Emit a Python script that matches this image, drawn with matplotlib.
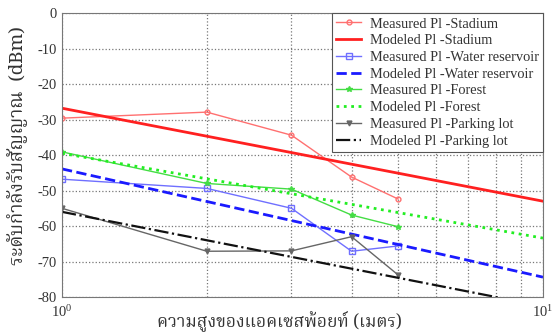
import numpy as np
import matplotlib
matplotlib.use('Agg')
import matplotlib.pyplot as plt
from matplotlib.ticker import LogLocator, NullFormatter, FixedLocator

# ความสูงของแอคเซสพ้อยท์ (m) at which path loss was measured
height_m = [1, 2, 3, 4, 5]
# model lines are straight on log-x, endpoints at 1 m and 10 m
height_model = [1, 10]

stadium_meas = [-29.6, -27.9, -34.4, -46.2, -52.4]
stadium_model = [-26.8, -53.0]
water_meas = [-46.8, -49.4, -55.0, -67.1, -65.6]
water_model = [-43.9, -74.4]
forest_meas = [-39.1, -48.0, -49.6, -56.9, -60.2]
forest_model = [-39.5, -63.4]
parking_meas = [-55.0, -67.1, -67.0, -63.0, -73.8]
parking_model = [-56.0, -82.6]

labels = ['Measured Pl -Stadium', 'Modeled Pl -Stadium',
          'Measured Pl -Water reservoir', 'Modeled Pl -Water reservoir',
          'Measured Pl -Forest', 'Modeled Pl -Forest',
          'Measured Pl -Parking lot', 'Modeled Pl -Parking lot']
yticks = [0, -10, -20, -30, -40, -50, -60, -70, -80]
xlabel = 'ความสูงของแอคเซสพ้อยท์ (เมตร)'
ylabel = 'ระดับกำลังรับสัญญาณ  (dBm)'

thai_fonts = ['Noto Serif Thai', 'Noto Sans Thai', 'Garuda', 'Loma', 'Norasi',
              'TlwgTypo', 'Waree', 'Liberation Serif', 'DejaVu Sans']
plt.rcParams['font.family'] = ['Liberation Serif', 'DejaVu Serif']
plt.rcParams['axes.unicode_minus'] = False
plt.rcParams['mathtext.fontset'] = 'custom'
plt.rcParams['mathtext.rm'] = 'Liberation Serif'

fig = plt.figure(figsize=(5.52, 3.36), dpi=100)
ax = fig.add_axes([0.1123, 0.116, 0.8714, 0.845])

ax.plot(height_m, stadium_meas, '-o', color='#ff7070', lw=1.0, ms=3.5,
        mfc='none', mew=1.0, label=labels[0])
ax.plot(height_model, stadium_model, '-', color='#ff2020', lw=2.0, label=labels[1])
ax.plot(height_m, water_meas, '-s', color='#6f6fff', lw=1.0, ms=4,
        mfc='none', mew=1.0, label=labels[2])
ax.plot(height_model, water_model, '--', color='#1a1aff', lw=2.0, label=labels[3])
ax.plot(height_m, forest_meas, '-*', color='#44dd44', lw=1.0, ms=4,
        label=labels[4])
ax.plot(height_model, forest_model, ':', color='#22ee22', lw=2.0, label=labels[5])
ax.plot(height_m, parking_meas, '-v', color='#666666', lw=1.0, ms=3.5,
        label=labels[6])
ax.plot(height_model, parking_model, '-.', color='#111111', lw=1.6, label=labels[7])

ax.set_xscale('log')
ax.set_xlim(1, 10)
ax.set_ylim(-80, 0)
ax.set_yticks(yticks)
ax.xaxis.set_major_locator(FixedLocator([1, 10]))
ax.xaxis.set_minor_locator(LogLocator(base=10, subs=np.arange(2, 10)))
ax.xaxis.set_minor_formatter(NullFormatter())
ax.set_xticklabels(['$\\mathregular{10^0}$', '$\\mathregular{10^1}$'])
ax.grid(True, which='both', axis='x', color='#777777', ls=':', lw=0.9)
ax.grid(True, which='major', axis='y', color='#777777', ls=':', lw=0.9)
ax.tick_params(which='both', length=0, labelsize=10.5, colors='#333333')
ax.tick_params(axis='x', pad=5)
ax.tick_params(axis='y', pad=4)
for s in ax.spines.values():
    s.set_color('#777777')

fig.text(279 / 552, 1 - 321 / 336, xlabel, family=thai_fonts, fontsize=12.5,
         ha='center', va='center', color='#333333')
fig.text(18 / 552, 1 - 146 / 336, ylabel, family=thai_fonts, fontsize=13.5,
         ha='center', va='center', rotation=90, color='#333333')

leg = ax.legend(loc='upper right', fontsize=10.4, labelspacing=0.25,
                handlelength=1.7, handletextpad=0.6, borderaxespad=0,
                fancybox=False, framealpha=1, edgecolor='#555555',
                borderpad=0.3)
leg.get_frame().set_linewidth(0.8)
for t in leg.get_texts():
    t.set_color('#333333')

fig.savefig('out.png', dpi=100)
